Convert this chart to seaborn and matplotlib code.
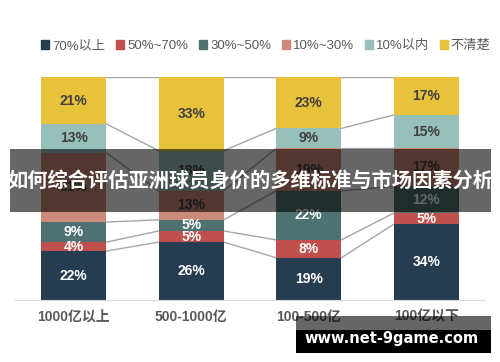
import numpy as np
import pandas as pd
import matplotlib
matplotlib.use("Agg")
import matplotlib.pyplot as plt
from matplotlib.patches import Patch, Rectangle
import seaborn as sns

# data (percent of players per value bracket)
categories = ["1000亿以上", "500-1000亿", "100-500亿", "100亿以下"]
series = ["70%以上", "50%~70%", "30%~50%", "10%~30%", "10%以内", "不清楚"]
v_70 = [22, 26, 19, 34]
v_50_70 = [4, 5, 8, 5]
v_30_50 = [9, 5, 22, 12]
v_10_30 = [31, 13, 19, 17]
v_10 = [13, 18, 9, 15]
v_unknown = [21, 33, 23, 17]

colors = ["#263C50", "#C0504D", "#4E7272", "#CC8B7A", "#97C0BB", "#E9C23B"]
text_colors = ["white", "white", "white", "#404040", "#404040", "#404040"]

sns.set_style("white")
plt.rcParams["font.family"] = ["Liberation Sans", "Noto Sans CJK SC", "DejaVu Sans"]

values = [v_70, v_50_70, v_30_50, v_10_30, v_10, v_unknown]
df = pd.DataFrame({s: np.array(v) / 100 for s, v in zip(series, values)}, index=categories)

fig = plt.figure(figsize=(5, 3.62), dpi=100)
ax = fig.add_axes([0.03, 0.171, 0.94, 0.616])

width = 0.555
bottom = np.zeros(len(categories))
for s, c, tc in zip(series, colors, text_colors):
    sns.barplot(x=categories, y=df[s].values, bottom=bottom, color=c, width=width,
                errorbar=None, ax=ax, saturation=1, linewidth=0)
    for i, (b, h) in enumerate(zip(bottom, df[s].values)):
        ax.text(i, b + h / 2, f"{round(h * 100)}%", ha="center", va="center",
                color=tc, fontsize=10, fontweight="bold")
    bottom = bottom + df[s].values

# connector lines between neighbouring bars
cum = df.cumsum(axis=1).values
for i in range(len(categories) - 1):
    for k in range(len(series)):
        ax.plot([i + width / 2, i + 1 - width / 2], [cum[i, k], cum[i + 1, k]],
                color="#A6A6A6", lw=1, zorder=0.5)

ax.set_xlim(-0.5, 3.5)
ax.set_ylim(0, 1)
ax.set_yticks([])
ax.set_xlabel("")
ax.set_ylabel("")
for sp in ["top", "left", "right"]:
    ax.spines[sp].set_visible(False)
ax.spines["bottom"].set_color("#D9D9D9")
ax.tick_params(axis="x", length=0, pad=7)
for lab in ax.get_xticklabels():
    lab.set_fontsize(10)
    lab.set_fontweight("bold")
    lab.set_color("#595959")

handles = [Patch(color=c, label=s) for s, c in zip(series, colors)]
fig.legend(handles=handles, loc="center", bbox_to_anchor=(0.532, 0.873), ncol=6,
           frameon=False, fontsize=9.5, labelcolor="#595959", handlelength=0.6,
           handleheight=0.6, handletextpad=0.25, columnspacing=0.8)

# title banner across the middle
fig.add_artist(Rectangle((0.02, 0.414), 0.962, 0.174, transform=fig.transFigure,
                         facecolor="black", alpha=0.6, zorder=5, lw=0))
fig.text(0.501, 0.501, "如何综合评估亚洲球员身价的多维标准与市场因素分析", ha="center", va="center",
         color="white", fontsize=14.6, fontweight="bold", zorder=6,
         family=["Noto Sans CJK SC", "DejaVu Sans"])

# watermark
fig.add_artist(Rectangle((0.592, 1 - 330 / 362), 0.39, 14 / 362, transform=fig.transFigure,
                         facecolor="black", alpha=0.6, zorder=5, lw=0))
fig.add_artist(Rectangle((0.592, 1 - 353 / 362), 0.39, 23 / 362, transform=fig.transFigure,
                         facecolor="black", zorder=5, lw=0))
fig.text(0.784, 1 - 338 / 362, "www.net-9game.com", ha="center", va="center",
         color="white", fontsize=10.5, fontweight="bold", zorder=6, family="DejaVu Sans")

fig.savefig("out.png", dpi=100)
